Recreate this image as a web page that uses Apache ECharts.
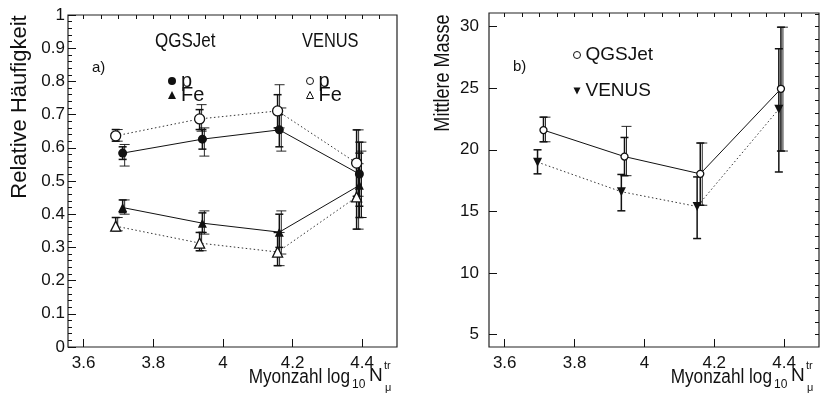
<!DOCTYPE html>
<html>
<head>
<meta charset="utf-8">
<script src="https://cdn.jsdelivr.net/npm/echarts@6/dist/echarts.min.js"></script>
<style>
  html, body { margin: 0; padding: 0; background: #fff; }
  #chart { width: 821px; height: 394px; }
</style>
</head>
<body>
<div id="chart"></div>
<script>
// ---- axis ticks ----
const xMajorTicks = [3.6, 3.8, 4.0, 4.2, 4.4];
const xMinorTicks = [3.6, 3.65, 3.7, 3.75, 3.8, 3.85, 3.9, 3.95, 4.0, 4.05, 4.1, 4.15, 4.2, 4.25, 4.3, 4.35, 4.4, 4.45];
const massMajorTicks = [5, 10, 15, 20, 25, 30];
const massMinorTicks = [5, 6, 7, 8, 9, 10, 11, 12, 13, 14, 15, 16, 17, 18, 19, 20, 21, 22, 23, 24, 25, 26, 27, 28, 29, 30, 31];

// ---- panel a): relative abundance of p and Fe ----
const qgsjetX = [3.712, 3.941, 4.162, 4.392];
const venusX  = [3.692, 3.933, 4.157, 4.384];

const qgsjetP  = [0.584, 0.626, 0.654, 0.521];
const qgsjetFe = [0.420, 0.373, 0.346, 0.487];
const venusP   = [0.636, 0.687, 0.711, 0.554];
const venusFe  = [0.364, 0.313, 0.286, 0.452];

// statistical errors [low, high]
const qgsjetPStat  = [[0.565, 0.603], [0.596, 0.655], [0.603, 0.700], [0.424, 0.617]];
const qgsjetFeStat = [[0.405, 0.443], [0.345, 0.404], [0.300, 0.400], [0.390, 0.584]];
const venusPStat   = [[0.620, 0.655], [0.655, 0.715], [0.660, 0.760], [0.454, 0.654]];
const venusFeStat  = [[0.350, 0.390], [0.290, 0.345], [0.245, 0.345], [0.355, 0.552]];
// systematic ranges [low, high]
const qgsjetPSys   = [[0.545, 0.610], [0.575, 0.660], [0.590, 0.720], [0.390, 0.617]];
const qgsjetFeSys  = [[0.400, 0.443], [0.340, 0.410], [0.280, 0.410], [0.390, 0.590]];
const venusPSys    = [[0.620, 0.655], [0.650, 0.730], [0.660, 0.790], [0.454, 0.654]];
const venusFeSys   = [[0.350, 0.390], [0.290, 0.345], [0.245, 0.345], [0.355, 0.552]];

// ---- panel b): mean mass ----
const massQgsjetX = [3.711, 3.943, 4.160, 4.391];
const massVenusX  = [3.694, 3.934, 4.151, 4.385];
const massQgsjet  = [21.6, 19.45, 18.05, 24.95];
const massVenus   = [19.0, 16.6, 15.4, 23.3];
const massQgsjetErr = [[20.65, 22.65], [17.9, 21.0], [15.5, 20.55], [19.9, 29.95]];
const massVenusErr  = [[18.05, 20.0], [15.05, 18.0], [12.8, 17.8], [18.2, 28.2]];
const massQgsjetSys = [[20.65, 22.65], [17.9, 21.9], [15.5, 20.55], [19.9, 29.95]];

const FONT = '"Liberation Sans", Arial, Helvetica, sans-serif';
const INK = '#111';
const DOWN_TRIANGLE = 'path://M0,0 L10,0 L5,10 Z';

const zip = (xs, ys) => xs.map((x, i) => [x, ys[i]]);
const bars = (xs, ranges) => xs.map((x, i) => [x, ranges[i][0], ranges[i][1]]);

// capped error bar
function statBar(params, api) {
  const x = api.value(0);
  const lo = api.coord([x, api.value(1)]);
  const hi = api.coord([x, api.value(2)]);
  const c = 4;
  const st = { stroke: INK, lineWidth: 1.5 };
  return { type: 'group', children: [
    { type: 'line', shape: { x1: lo[0], y1: lo[1], x2: hi[0], y2: hi[1] }, style: st },
    { type: 'line', shape: { x1: lo[0] - c, y1: lo[1], x2: lo[0] + c, y2: lo[1] }, style: st },
    { type: 'line', shape: { x1: hi[0] - c, y1: hi[1], x2: hi[0] + c, y2: hi[1] }, style: st }
  ]};
}
// thin systematic bar with crossing ticks
function sysBar(params, api) {
  const x = api.value(0);
  const lo = api.coord([x, api.value(1)]);
  const hi = api.coord([x, api.value(2)]);
  const c = 5, dx = 2;
  const st = { stroke: INK, lineWidth: 0.9 };
  return { type: 'group', children: [
    { type: 'line', shape: { x1: lo[0] + dx, y1: lo[1], x2: hi[0] + dx, y2: hi[1] }, style: st },
    { type: 'line', shape: { x1: lo[0] + dx - c, y1: lo[1], x2: lo[0] + dx + c, y2: lo[1] }, style: st },
    { type: 'line', shape: { x1: hi[0] + dx - c, y1: hi[1], x2: hi[0] + dx + c, y2: hi[1] }, style: st }
  ]};
}

function errSeries(name, fn, data, xi, yi) {
  return {
    name, type: 'custom', renderItem: fn, data, xAxisIndex: xi, yAxisIndex: yi,
    encode: { x: 0, y: [1, 2] }, z: 1, silent: true
  };
}

const axisLabelStyle = { color: INK, fontFamily: FONT, fontSize: 17 };

function xAxes(gridIndex, min, max) {
  return [
    {
      gridIndex, type: 'value', min, max,
      axisLine: { show: false },
      splitLine: { show: false },
      axisTick: { inside: true, length: 8, customValues: xMajorTicks, lineStyle: { color: INK } },
      axisLabel: Object.assign({ customValues: xMajorTicks, margin: 8 }, axisLabelStyle)
    },
    {
      gridIndex, type: 'value', min, max,
      axisLine: { show: false },
      splitLine: { show: false },
      axisTick: { inside: true, length: 4, customValues: xMinorTicks, lineStyle: { color: INK } },
      axisLabel: { show: false }
    }
  ];
}

const legendText = { fontFamily: FONT, fontSize: 20, color: INK };

const option = {
  backgroundColor: '#fff',
  animation: false,
  grid: [
    { left: 68, top: 15, width: 329, height: 332, show: true, borderColor: '#222', borderWidth: 1.2, backgroundColor: 'transparent' },
    { left: 489, top: 13, width: 330, height: 334, show: true, borderColor: '#222', borderWidth: 1.2, backgroundColor: 'transparent' }
  ],
  xAxis: [].concat(xAxes(0, 3.555, 4.5), xAxes(1, 3.555, 4.5)),
  yAxis: [
    {
      gridIndex: 0, type: 'value', min: 0, max: 1, interval: 0.1,
      axisLine: { show: false }, splitLine: { show: false },
      axisTick: { inside: true, length: 8, lineStyle: { color: INK } },
      minorTick: { show: true, splitNumber: 5, length: 4, lineStyle: { color: INK } },
      axisLabel: Object.assign({ margin: 3, formatter: v => (v === 0 || v === 1) ? String(v) : v.toFixed(1) }, axisLabelStyle)
    },
    {
      gridIndex: 1, type: 'value', min: 4, max: 31.1,
      axisLine: { show: false }, splitLine: { show: false },
      axisTick: { inside: true, length: 8, customValues: massMajorTicks, lineStyle: { color: INK } },
      axisLabel: Object.assign({ customValues: massMajorTicks, margin: 10 }, axisLabelStyle)
    },
    {
      gridIndex: 1, type: 'value', min: 4, max: 31.1,
      axisLine: { show: false }, splitLine: { show: false },
      axisTick: { inside: true, length: 4, customValues: massMinorTicks, lineStyle: { color: INK } },
      axisLabel: { show: false }
    }
  ],
  legend: [
    {
      left: 163, top: 66, orient: 'vertical', itemGap: -6, itemWidth: 8, itemHeight: 8,
      selectedMode: false, textStyle: legendText,
      formatter: n => n.split(' ')[1],
      data: [
        { name: 'QGSJet p', icon: 'circle', itemStyle: { color: INK } },
        { name: 'QGSJet Fe', icon: 'triangle', itemStyle: { color: INK } }
      ]
    },
    {
      left: 301, top: 66, orient: 'vertical', itemGap: -6, itemWidth: 7, itemHeight: 7,
      selectedMode: false, textStyle: legendText,
      formatter: n => n.split(' ')[1],
      data: [
        { name: 'VENUS p', icon: 'circle', itemStyle: { color: '#fff', borderColor: INK, borderWidth: 1 } },
        { name: 'VENUS Fe', icon: 'triangle', itemStyle: { color: '#fff', borderColor: INK, borderWidth: 1 } }
      ]
    },
    {
      left: 568, top: 40, orient: 'vertical', itemGap: 16, itemWidth: 7, itemHeight: 7,
      selectedMode: false,
      textStyle: { fontFamily: FONT, fontSize: 19, color: INK, lineHeight: 20 },
      data: [
        { name: 'QGSJet', icon: 'circle', itemStyle: { color: '#fff', borderColor: INK, borderWidth: 1 } },
        { name: 'VENUS', icon: DOWN_TRIANGLE, itemStyle: { color: INK } }
      ]
    }
  ],
  series: [
    // panel a) error bars
    errSeries('qp-sys', sysBar, bars(qgsjetX, qgsjetPSys), 0, 0),
    errSeries('qfe-sys', sysBar, bars(qgsjetX, qgsjetFeSys), 0, 0),
    errSeries('vp-sys', sysBar, bars(venusX, venusPSys), 0, 0),
    errSeries('vfe-sys', sysBar, bars(venusX, venusFeSys), 0, 0),
    errSeries('qp-stat', statBar, bars(qgsjetX, qgsjetPStat), 0, 0),
    errSeries('qfe-stat', statBar, bars(qgsjetX, qgsjetFeStat), 0, 0),
    errSeries('vp-stat', statBar, bars(venusX, venusPStat), 0, 0),
    errSeries('vfe-stat', statBar, bars(venusX, venusFeStat), 0, 0),
    // panel a) points and lines
    {
      name: 'QGSJet p', type: 'line', xAxisIndex: 0, yAxisIndex: 0, data: zip(qgsjetX, qgsjetP),
      symbol: 'circle', symbolSize: 9, itemStyle: { color: INK },
      lineStyle: { color: INK, width: 1 }, z: 3
    },
    {
      name: 'QGSJet Fe', type: 'line', xAxisIndex: 0, yAxisIndex: 0, data: zip(qgsjetX, qgsjetFe),
      symbol: 'triangle', symbolSize: 9, itemStyle: { color: INK },
      lineStyle: { color: INK, width: 1 }, z: 3
    },
    {
      name: 'VENUS p', type: 'line', xAxisIndex: 0, yAxisIndex: 0, data: zip(venusX, venusP),
      symbol: 'circle', symbolSize: 10, itemStyle: { color: '#fff', borderColor: INK, borderWidth: 1.3 },
      lineStyle: { color: '#333', width: 1, type: [1.5, 2.5] }, z: 3
    },
    {
      name: 'VENUS Fe', type: 'line', xAxisIndex: 0, yAxisIndex: 0, data: zip(venusX, venusFe),
      symbol: 'triangle', symbolSize: 10, itemStyle: { color: '#fff', borderColor: INK, borderWidth: 1.3 },
      lineStyle: { color: '#333', width: 1, type: [1.5, 2.5] }, z: 3
    },
    // panel b) error bars
    errSeries('mq-sys', sysBar, bars(massQgsjetX, massQgsjetSys), 2, 1),
    errSeries('mq-stat', statBar, bars(massQgsjetX, massQgsjetErr), 2, 1),
    errSeries('mv-stat', statBar, bars(massVenusX, massVenusErr), 2, 1),
    // panel b) points and lines
    {
      name: 'QGSJet', type: 'line', xAxisIndex: 2, yAxisIndex: 1, data: zip(massQgsjetX, massQgsjet),
      symbol: 'circle', symbolSize: 7, itemStyle: { color: '#fff', borderColor: INK, borderWidth: 1.3 },
      lineStyle: { color: INK, width: 1 }, z: 3
    },
    {
      name: 'VENUS', type: 'line', xAxisIndex: 2, yAxisIndex: 1, data: zip(massVenusX, massVenus),
      symbol: DOWN_TRIANGLE, symbolSize: 9, itemStyle: { color: INK },
      lineStyle: { color: '#333', width: 1, type: [1.5, 2.5] }, z: 3
    }
  ],
  graphic: [
    // axis titles
    { type: 'text', x: 20, y: 107, rotation: Math.PI / 2,
      style: { text: 'Relative Häufigkeit', font: '22px ' + FONT, fill: INK, textAlign: 'center', textVerticalAlign: 'middle' } },
    { type: 'text', x: 443, y: 73, rotation: Math.PI / 2, scaleX: 0.82,
      style: { text: 'Mittlere Masse', font: '22px ' + FONT, fill: INK, textAlign: 'center', textVerticalAlign: 'middle' } },
    // panel labels and model names
    { type: 'text', x: 155, y: 41, scaleX: 0.85,
      style: { text: 'QGSJet', font: '20px ' + FONT, fill: INK, textAlign: 'left', textVerticalAlign: 'middle' } },
    { type: 'text', x: 302, y: 41, scaleX: 0.82,
      style: { text: 'VENUS', font: '20px ' + FONT, fill: INK, textAlign: 'left', textVerticalAlign: 'middle' } },
    { type: 'text', x: 92, y: 68,
      style: { text: 'a)', font: '15px ' + FONT, fill: INK, textAlign: 'left', textVerticalAlign: 'middle' } },
    { type: 'text', x: 513, y: 67,
      style: { text: 'b)', font: '15px ' + FONT, fill: INK, textAlign: 'left', textVerticalAlign: 'middle' } }
  ]
};

// x-axis title "Myonzahl log10 N^tr_mu", right-aligned to the frame edge
function xTitle(R) {
  return [
    { type: 'text', x: R - 47, y: 377, scaleX: 0.86,
      style: { text: 'Myonzahl log', font: '20px ' + FONT, fill: INK, textAlign: 'right', textVerticalAlign: 'middle' } },
    { type: 'text', x: R - 45, y: 385,
      style: { text: '10', font: '12px ' + FONT, fill: INK, textAlign: 'left', textVerticalAlign: 'middle' } },
    { type: 'text', x: R - 28, y: 376,
      style: { text: 'N', font: '19px ' + FONT, fill: INK, textAlign: 'left', textVerticalAlign: 'middle' } },
    { type: 'text', x: R - 13, y: 366,
      style: { text: 'tr', font: '11px ' + FONT, fill: INK, textAlign: 'left', textVerticalAlign: 'middle' } },
    { type: 'text', x: R - 12, y: 388,
      style: { text: 'μ', font: '11px ' + FONT, fill: INK, textAlign: 'left', textVerticalAlign: 'middle' } }
  ];
}
option.graphic = option.graphic.concat(xTitle(397), xTitle(819));

const chart = echarts.init(document.getElementById('chart'), null, { renderer: 'canvas' });
chart.setOption(option);
</script>
</body>
</html>
